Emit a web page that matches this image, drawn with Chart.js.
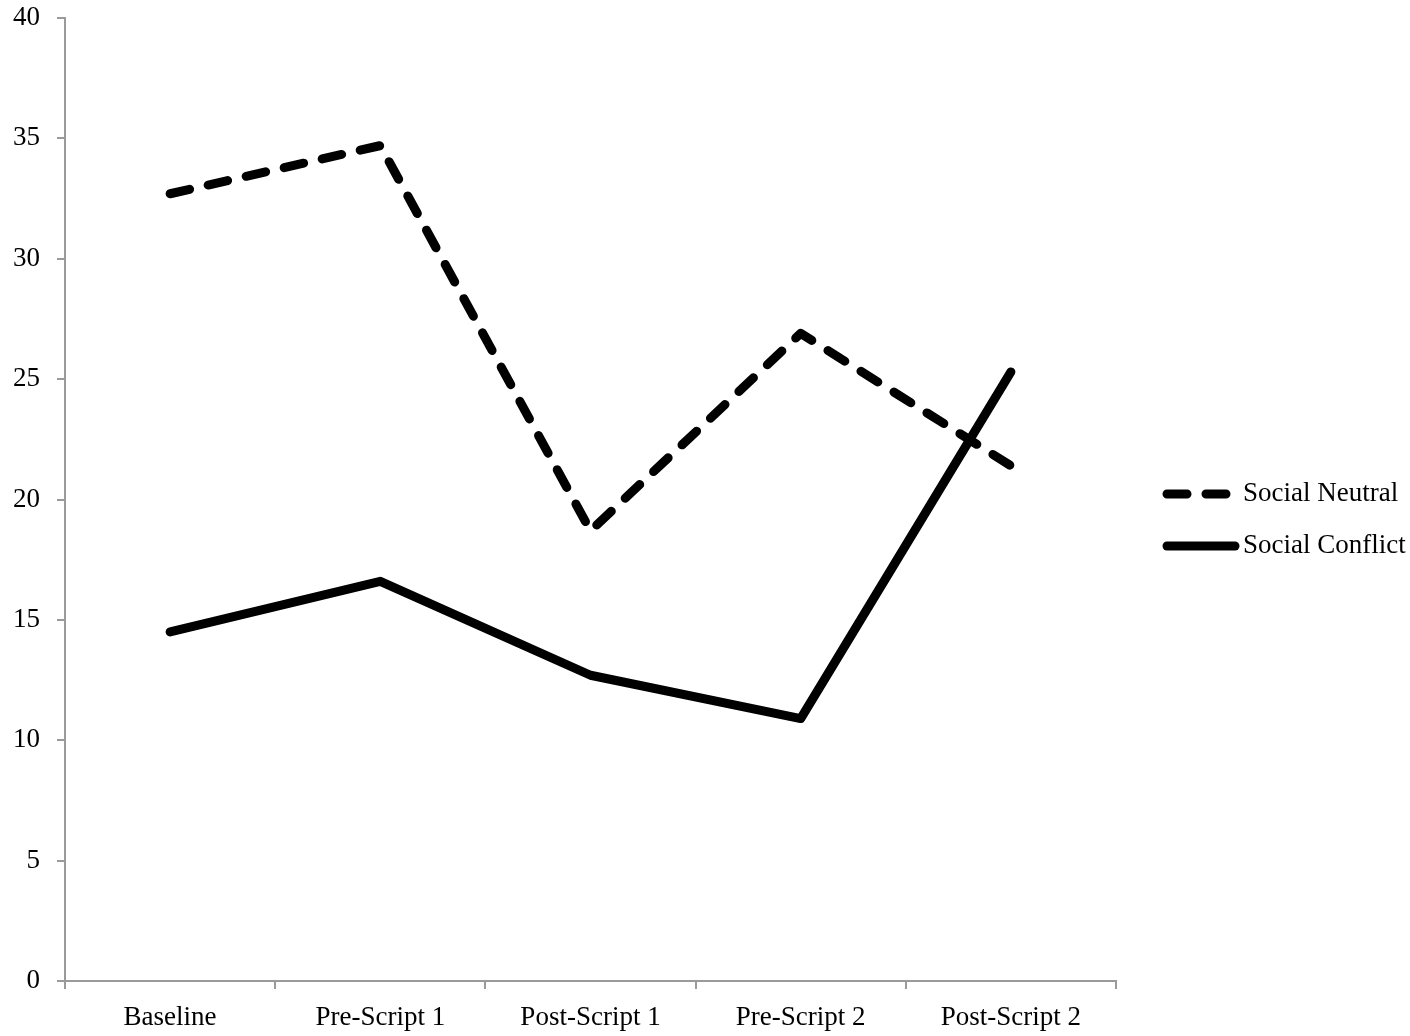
<!DOCTYPE html>
<html>
<head>
<meta charset="utf-8">
<script src="https://cdn.jsdelivr.net/npm/chart.js@4/dist/chart.umd.min.js"></script>
<style>
  html, body { margin: 0; padding: 0; background: #fff; }
  #wrap { width: 1410px; height: 1036px; }
</style>
</head>
<body>
<div id="wrap"><canvas id="chart"></canvas></div>
<script>
// values
const phases = ["Baseline", "Pre-Script 1", "Post-Script 1", "Pre-Script 2", "Post-Script 2"];
const socialNeutral = [32.7, 34.7, 18.7, 26.9, 21.4];
const socialConflict = [14.5, 16.6, 12.7, 10.9, 25.3];
const yTicks = [0, 5, 10, 15, 20, 25, 30, 35, 40];

const axisGray = "#9a9a9a";
const font = { family: "Liberation Serif", size: 27 };

// legend on the right, drawn from the datasets' own styles
const sideLegend = {
  id: "sideLegend",
  afterDraw(chart) {
    const ctx = chart.ctx;
    const area = chart.chartArea;
    const x0 = area.right + 51;
    const rowGap = 52;
    const sets = chart.data.datasets;
    const yStart = chart.height / 2 + 2 - (rowGap * (sets.length - 1)) / 2;
    ctx.save();
    sets.forEach((ds, i) => {
      const y = yStart + i * rowGap;
      ctx.beginPath();
      ctx.setLineDash(ds.borderDash || []);
      ctx.lineCap = ds.borderCapStyle || "butt";
      ctx.lineWidth = ds.borderWidth;
      ctx.strokeStyle = ds.borderColor;
      ctx.moveTo(x0, y);
      ctx.lineTo(x0 + 68, y);
      ctx.stroke();
      ctx.setLineDash([]);
      ctx.fillStyle = "#000";
      ctx.font = font.size + "px '" + font.family + "'";
      ctx.textBaseline = "middle";
      ctx.textAlign = "left";
      ctx.fillText(ds.label, x0 + 76, y);
    });
    ctx.restore();
  },
};

const config = {
  type: "line",
  data: {
    labels: phases,
    datasets: [
      {
        label: "Social Neutral",
        data: socialNeutral,
        borderColor: "#000",
        backgroundColor: "#000",
        borderWidth: 9,
        borderDash: [20, 19],
        borderCapStyle: "round",
        borderJoinStyle: "round",
        pointRadius: 0,
        tension: 0,
      },
      {
        label: "Social Conflict",
        data: socialConflict,
        borderColor: "#000",
        backgroundColor: "#000",
        borderWidth: 9,
        borderCapStyle: "round",
        borderJoinStyle: "round",
        pointRadius: 0,
        tension: 0,
      },
    ],
  },
  options: {
    responsive: true,
    maintainAspectRatio: false,
    animation: false,
    layout: { padding: { top: 18, right: 294, bottom: 0, left: 0 } },
    plugins: {
      legend: { display: false },
      tooltip: { enabled: false },
    },
    scales: {
      x: {
        offset: true,
        afterFit: (s) => { s.height = 55; },
        grid: {
          offset: true,
          drawOnChartArea: false,
          drawTicks: true,
          tickLength: 8,
          color: axisGray,
          lineWidth: 2,
        },
        border: { display: true, color: axisGray, width: 2 },
        ticks: { color: "#000", font: font, padding: 13, maxRotation: 0 },
      },
      y: {
        min: 0,
        max: 40,
        afterFit: (s) => { s.width = 65; s.paddingTop = 0; s.paddingBottom = 0; },
        afterBuildTicks: (s) => { s.ticks = yTicks.map((v) => ({ value: v })); },
        grid: {
          drawOnChartArea: false,
          drawTicks: true,
          tickLength: 8,
          color: axisGray,
          lineWidth: 2,
        },
        border: { display: true, color: axisGray, width: 2 },
        ticks: { color: "#000", font: { family: font.family, size: font.size, lineHeight: 0.8 }, padding: 17 },
      },
    },
  },
  plugins: [sideLegend],
};

new Chart(document.getElementById("chart"), config);
</script>
</body>
</html>
